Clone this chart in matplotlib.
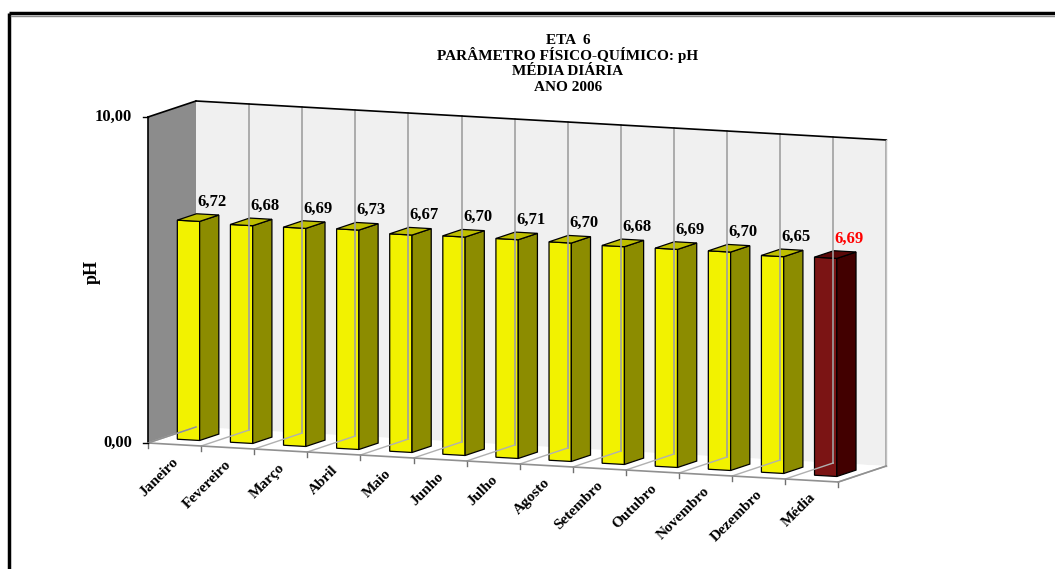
import matplotlib
matplotlib.use("Agg")
import matplotlib.pyplot as plt
from matplotlib.patches import Polygon

plt.rcParams['font.family'] = ['Liberation Serif', 'DejaVu Serif']

meses = ['Janeiro', 'Fevereiro', 'Março', 'Abril', 'Maio', 'Junho', 'Julho',
         'Agosto', 'Setembro', 'Outubro', 'Novembro', 'Dezembro', 'Média']
ph = [6.72, 6.68, 6.69, 6.73, 6.67, 6.70, 6.71, 6.70, 6.68, 6.69, 6.70, 6.65, 6.69]
rotulos = ['6,72', '6,68', '6,69', '6,73', '6,67', '6,70', '6,71', '6,70',
           '6,68', '6,69', '6,70', '6,65', '6,69']
titulo = ['ETA  6', 'PARÂMETRO FÍSICO-QUÍMICO: pH', 'MÉDIA DIÁRIA', 'ANO 2006']
ymax = 10.0

# oblique "3d" box in pixel coords
X0, Y0 = 148, 443      # front-left-bottom corner
DU = 53.1              # width of one category
SLOPE = 3.0            # floor drops a bit to the right
VSCALE = 32.6          # pixels per pH unit
DX, DY = 48, -16       # depth offset


def proj(u, v, w):
    x = X0 + u * DU + w * DX
    y = Y0 + u * SLOPE - v * VSCALE + w * DY
    return (x, y)


n = len(meses)
fig = plt.figure(figsize=(10.55, 5.69), dpi=100)
ax = fig.add_axes([0, 0, 1, 1])
ax.set_xlim(0, 1055)
ax.set_ylim(569, 0)
ax.axis('off')

# outer frame
ax.plot([9, 1055], [13, 13], color='black', lw=2.5, solid_capstyle='butt')
ax.plot([9, 9], [13, 569], color='black', lw=2.5, solid_capstyle='butt')
ax.plot([11, 1055], [15.5, 15.5], color='#888888', lw=1)

# back wall
ax.add_patch(Polygon([proj(0, 0, 1), proj(n, 0, 1), proj(n, ymax, 1), proj(0, ymax, 1)],
                     closed=True, fc='#f0f0f0', ec='none'))
# left wall
ax.add_patch(Polygon([proj(0, 0, 0), proj(0, 0, 1), proj(0, ymax, 1), proj(0, ymax, 0)],
                     closed=True, fc='#8c8c8c', ec='none'))
# floor
ax.add_patch(Polygon([proj(0, 0, 0), proj(n, 0, 0), proj(n, 0, 1), proj(0, 0, 1)],
                     closed=True, fc='white', ec='none'))

# gridlines on back wall and floor
for k in range(1, n + 1):
    p0, p1 = proj(k, 0, 1), proj(k, ymax, 1)
    ax.plot([p0[0], p1[0]], [p0[1], p1[1]], color='#a0a0a0', lw=1.2)
for k in range(0, n + 1):
    p0, p1 = proj(k, 0, 0), proj(k, 0, 1)
    ax.plot([p0[0], p1[0]], [p0[1], p1[1]], color='#b0b0b0', lw=1)
    # ticks under the category axis
    ax.plot([p0[0], p0[0]], [p0[1], p0[1] + 5], color='#707070', lw=1)

# edges
def edge(a, b, c='black', lw=1.2):
    ax.plot([a[0], b[0]], [a[1], b[1]], color=c, lw=lw)

edge(proj(0, ymax, 0), proj(0, ymax, 1))
edge(proj(0, ymax, 1), proj(n, ymax, 1))
edge(proj(n, ymax, 1), proj(n, 0, 1), '#c0c0c0', 1)
edge(proj(0, 0, 0), proj(0, ymax, 0))
edge(proj(0, 0, 0), proj(n, 0, 0), '#909090', 1.2)
edge(proj(n, 0, 0), proj(n, 0, 1), '#909090', 1.2)
edge(proj(0, 0, 0), proj(0, 0, 1), '#909090', 1)

# value axis ticks and labels
for v, txt in [(0, '0,00'), (ymax, '10,00')]:
    p = proj(0, v, 0)
    ax.plot([p[0] - 5, p[0]], [p[1], p[1]], color='black', lw=1)
    ax.text(p[0] - 16, p[1], txt, ha='right', va='center', fontsize=12,
            fontweight='bold')

ax.text(92, 272, 'pH', rotation=90, ha='center', va='center', fontsize=13,
        fontweight='bold')

# bars
u0, u1 = 0.29, 0.71
w0, w1 = 0.29, 0.69
for i, val in enumerate(ph):
    if i == n - 1:
        cf, cs, ct, cl = '#7b1414', '#420000', '#5a0808', '#ff0000'
    else:
        cf, cs, ct, cl = '#f2f200', '#8c8c00', '#bfbf00', 'black'
    a, b = i + u0, i + u1
    front = [proj(a, 0, w0), proj(b, 0, w0), proj(b, val, w0), proj(a, val, w0)]
    side = [proj(b, 0, w0), proj(b, 0, w1), proj(b, val, w1), proj(b, val, w0)]
    top = [proj(a, val, w0), proj(b, val, w0), proj(b, val, w1), proj(a, val, w1)]
    for pts, c in [(front, cf), (side, cs), (top, ct)]:
        ax.add_patch(Polygon(pts, closed=True, fc=c, ec='black', lw=0.9))
    px, py = proj(i + 0.5, val, 0.49)
    ax.text(px + 14, py - 16, rotulos[i], ha='center', va='center',
            fontsize=12, fontweight='bold', color=cl)

    # category label
    lx, ly = proj(i + 0.5, 0, 0)
    ax.text(lx + 2, ly + 15, meses[i], rotation=45, rotation_mode='anchor',
            ha='right', va='center', fontsize=11, fontweight='bold')

# title, one line at a time
for linha, ty in zip(titulo, [44, 59.5, 75, 90.5]):
    ax.text(568, ty, linha, ha='center', va='baseline', fontsize=11,
            fontweight='bold')

fig.savefig('out.png', dpi=100)
